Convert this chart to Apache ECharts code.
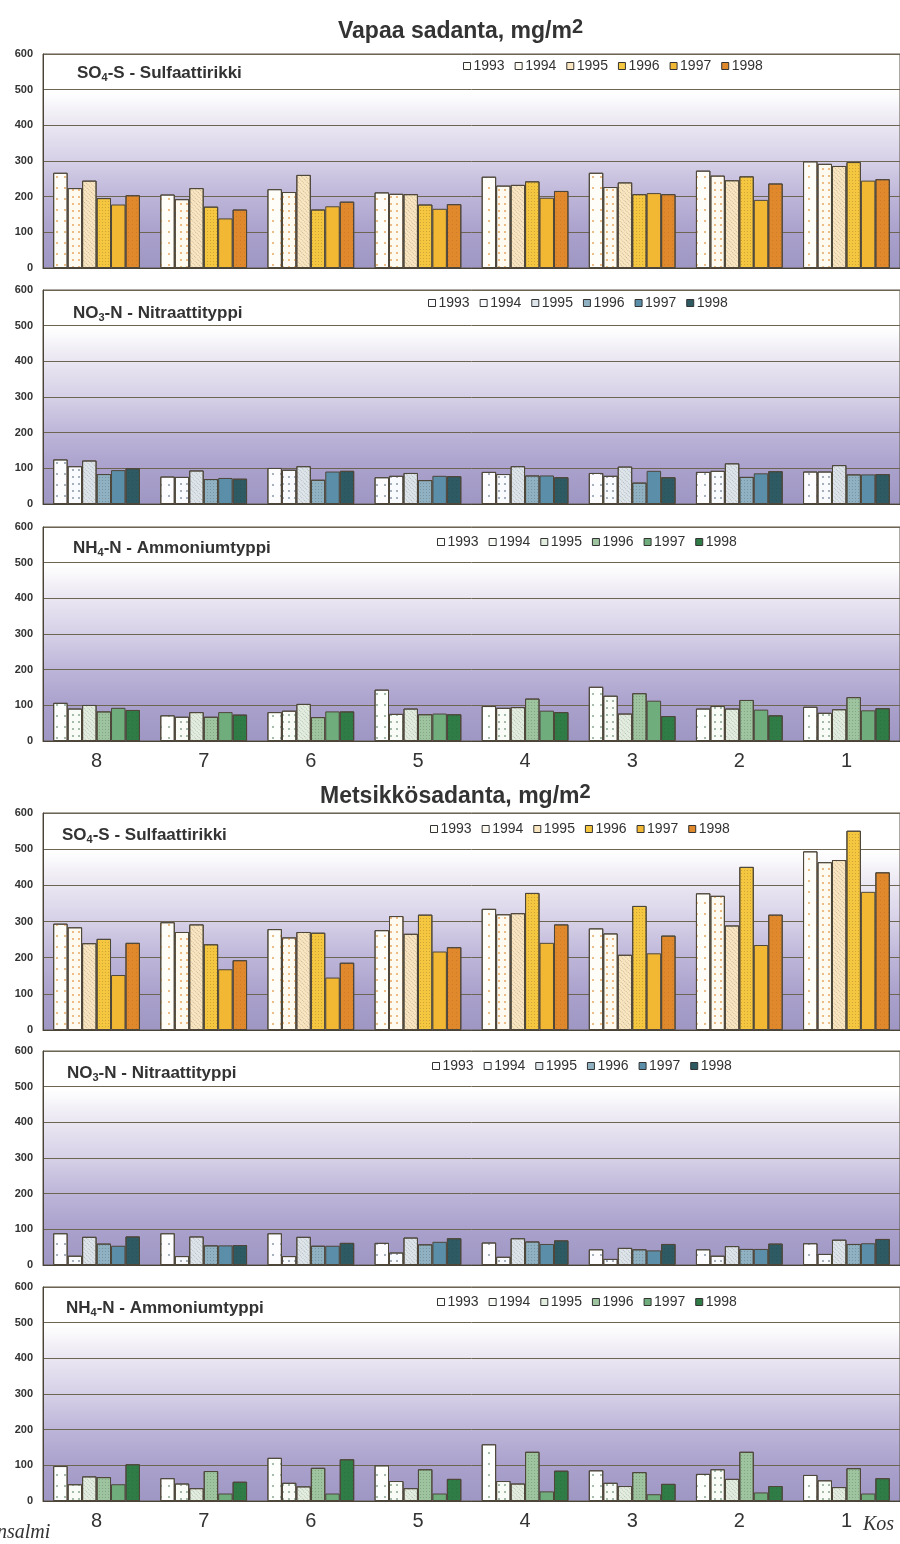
<!DOCTYPE html>
<html>
<head>
<meta charset="utf-8">
<script src="https://cdn.jsdelivr.net/npm/echarts@6/dist/echarts.min.js"></script>
<style>
  html, body { margin: 0; padding: 0; background: #fff; }
  #chart { width: 900px; height: 1544px; }
</style>
</head>
<body>
<div id="chart"></div>
<script>
const categories = ["8", "7", "6", "5", "4", "3", "2", "1"];
const years = ["1993", "1994", "1995", "1996", "1997", "1998"];
const yTicks = [0, 100, 200, 300, 400, 500, 600];

// Vapaa sadanta (one row per year, values per site 8..1)
const vapaaSO4 = [
  [267, 206, 221, 212, 256, 267, 273, 299],
  [224, 193, 213, 208, 231, 227, 259, 292],
  [245, 224, 261, 207, 233, 240, 246, 286],
  [196, 172, 164, 178, 243, 207, 257, 297],
  [178, 139, 173, 166, 197, 210, 191, 245],
  [204, 164, 186, 179, 216, 207, 237, 249],
];
const vapaaNO3 = [
  [125, 77, 101, 75, 90, 87, 90, 91],
  [106, 76, 96, 79, 84, 79, 93, 91],
  [122, 94, 106, 87, 106, 105, 114, 109],
  [84, 70, 68, 67, 80, 60, 76, 83],
  [95, 73, 91, 79, 80, 93, 86, 83],
  [100, 71, 93, 78, 75, 75, 92, 84],
];
const vapaaNH4 = [
  [107, 72, 81, 144, 98, 152, 91, 96],
  [91, 68, 85, 76, 93, 127, 98, 79],
  [101, 81, 104, 91, 95, 77, 91, 89],
  [83, 68, 67, 75, 119, 134, 115, 123],
  [93, 81, 83, 77, 85, 113, 88, 86],
  [87, 74, 83, 75, 81, 70, 72, 92],
];

// Metsikkösadanta
const metsSO4 = [
  [294, 298, 279, 276, 335, 281, 378, 494],
  [284, 271, 256, 315, 320, 267, 371, 464],
  [240, 292, 271, 266, 323, 208, 289, 470],
  [252, 237, 269, 319, 379, 343, 451, 551],
  [152, 168, 145, 217, 241, 212, 235, 382],
  [241, 193, 186, 229, 292, 261, 319, 436],
];
const metsNO3 = [
  [89, 89, 89, 62, 63, 44, 44, 61],
  [26, 25, 25, 35, 23, 17, 26, 31],
  [79, 80, 79, 77, 75, 48, 53, 71],
  [60, 55, 54, 58, 66, 44, 45, 59],
  [54, 55, 54, 65, 59, 41, 45, 61],
  [80, 56, 62, 75, 69, 59, 60, 73],
];
const metsNH4 = [
  [98, 64, 121, 100, 159, 86, 76, 73],
  [47, 49, 51, 56, 56, 51, 89, 58],
  [69, 36, 41, 36, 49, 42, 62, 39],
  [67, 84, 93, 89, 138, 81, 138, 92],
  [47, 21, 21, 21, 27, 19, 24, 21],
  [103, 54, 117, 62, 85, 48, 42, 64],
];

const sulfColors = ["#fffdf7", "#fffaf0", "#fae6c0", "#f5c640", "#f2b834", "#e0882c"];
const nitrColors = ["#fcfcff", "#f9fafd", "#dfe6eb", "#8fb1c2", "#5b8ea8", "#2e5a64"];
const ammoColors = ["#fdfffd", "#f8fbf6", "#e3eee0", "#9dc49f", "#6fad7c", "#2f7c47"];

const dotSulf = "rgba(226,150,70,0.85)";
const dotNitr = "rgba(90,110,130,0.7)";
const dotAmmo = "rgba(90,130,100,0.7)";

function decals(dot) {
  return [
    { symbol: "circle", symbolSize: 1, color: dot, dashArrayX: [2, 6], dashArrayY: [2, 9] },
    { symbol: "circle", symbolSize: 1, color: dot, dashArrayX: [2, 4], dashArrayY: [2, 5] },
    { symbol: "rect", symbolSize: 1, color: "rgba(0,0,0,0.2)", dashArrayX: [1, 1], dashArrayY: [1, 2], rotation: 0.78 },
    { symbol: "rect", symbolSize: 1, color: "rgba(0,0,0,0.16)", dashArrayX: [1, 2], dashArrayY: [1, 2] },
    null,
    { symbol: "circle", symbolSize: 1, color: "rgba(0,0,0,0.12)", dashArrayX: [1, 3], dashArrayY: [1, 3] },
  ];
}

const panels = [
  { top: 54, height: 214, name: "SO{b|4}-S - Sulfaattirikki", tx: 77, ty: 63, lx: 463, ly: 59, data: vapaaSO4, colors: sulfColors, dot: dotSulf },
  { top: 290, height: 214, name: "NO{b|3}-N - Nitraattityppi", tx: 73, ty: 303, lx: 428, ly: 296, data: vapaaNO3, colors: nitrColors, dot: dotNitr },
  { top: 527, height: 214, name: "NH{b|4}-N - Ammoniumtyppi", tx: 73, ty: 538, lx: 437, ly: 535, data: vapaaNH4, colors: ammoColors, dot: dotAmmo, labels: true },
  { top: 813, height: 217, name: "SO{b|4}-S - Sulfaattirikki", tx: 62, ty: 825, lx: 430, ly: 822, data: metsSO4, colors: sulfColors, dot: dotSulf },
  { top: 1051, height: 214, name: "NO{b|3}-N - Nitraattityppi", tx: 67, ty: 1063, lx: 432, ly: 1059, data: metsNO3, colors: nitrColors, dot: dotNitr },
  { top: 1287, height: 214, name: "NH{b|4}-N - Ammoniumtyppi", tx: 66, ty: 1298, lx: 437, ly: 1295, data: metsNH4, colors: ammoColors, dot: dotAmmo, labels: true },
];

const bgGrad = {
  type: "linear", x: 0, y: 0, x2: 0, y2: 1,
  colorStops: [
    { offset: 0, color: "#ffffff" },
    { offset: 0.18, color: "#ffffff" },
    { offset: 0.3, color: "#eeebf4" },
    { offset: 0.5, color: "#d6d0e7" },
    { offset: 0.67, color: "#bdb5d8" },
    { offset: 0.84, color: "#a9a0cc" },
    { offset: 1, color: "#9f97c3" },
  ],
};

const font = "Liberation Sans, Arial, sans-serif";

const mainTitleStyle = {
  fontFamily: font, fontSize: 23, fontWeight: "bold", color: "#333", lineHeight: 30,
  rich: { s: { fontFamily: font, fontSize: 20, color: "#333", lineHeight: 14, verticalAlign: "top" } },
};

const grids = [], xAxes = [], yAxes = [], series = [], legends = [];
const titles = [
  { text: "Vapaa sadanta, mg/m{s|2}", left: 338, top: 17, padding: 0, textStyle: mainTitleStyle },
  { text: "Metsikkösadanta, mg/m{s|2}", left: 320, top: 782, padding: 0, textStyle: mainTitleStyle },
];

panels.forEach((p, i) => {
  grids.push({
    left: 43, width: 858, top: p.top, height: p.height,
    show: true, backgroundColor: bgGrad, borderColor: "#5b5548", borderWidth: 1,
  });
  xAxes.push({
    type: "category", gridIndex: i, data: categories,
    axisTick: { show: false },
    axisLine: { lineStyle: { color: "#4a4438", width: 1 } },
    axisLabel: { show: !!p.labels, fontSize: 20, color: "#333", margin: 10, fontFamily: font },
  });
  yAxes.push({
    type: "value", gridIndex: i, min: yTicks[0], max: yTicks[yTicks.length - 1], interval: 100,
    axisLine: { show: true, lineStyle: { color: "#4a4438" } },
    axisTick: { show: false },
    axisLabel: { fontSize: 11, fontWeight: "bold", color: "#333", margin: 10, fontFamily: font },
    splitLine: { lineStyle: { color: "#6d6452", width: 1 } },
  });
  const dec = decals(p.dot);
  years.forEach((y, j) => {
    const itemStyle = { color: p.colors[j], borderColor: "#4e473a", borderWidth: 1 };
    if (dec[j]) itemStyle.decal = dec[j];
    series.push({
      type: "bar", name: y, xAxisIndex: i, yAxisIndex: i,
      data: p.data[j], barGap: "0%", barCategoryGap: "19%",
      itemStyle,
    });
  });
  legends.push({
    left: p.lx, top: p.ly, padding: 0, icon: "rect", itemWidth: 7, itemHeight: 7, itemGap: 10,
    selectedMode: false,
    textStyle: { fontSize: 14, color: "#333", fontFamily: font, padding: [0, 0, 0, -2] },
    data: years.map((n, j) => ({ name: n, itemStyle: { color: p.colors[j], borderColor: "#333", borderWidth: 1, decal: "none" } })),
  });
  titles.push({
    text: p.name, left: p.tx, top: p.ty, padding: 0,
    textStyle: { fontFamily: font, fontSize: 17, fontWeight: "bold", color: "#333", lineHeight: 20,
      rich: { b: { fontFamily: font, fontSize: 11, fontWeight: "bold", color: "#333", lineHeight: 10, verticalAlign: "bottom" } } },
  });
});

const chart = echarts.init(document.getElementById("chart"));
chart.setOption({
  backgroundColor: "#ffffff",
  animation: false,
  title: titles,
  legend: legends,
  grid: grids,
  xAxis: xAxes,
  yAxis: yAxes,
  series,
  graphic: [
    { type: "text", left: -3, top: 1523, style: { text: "nsalmi", font: "italic 20px 'Liberation Serif', serif", fill: "#333" } },
    { type: "text", left: 863, top: 1515, style: { text: "Kos", font: "italic 20px 'Liberation Serif', serif", fill: "#333" } },
  ],
});
window.addEventListener("resize", () => chart.resize());
</script>
</body>
</html>
